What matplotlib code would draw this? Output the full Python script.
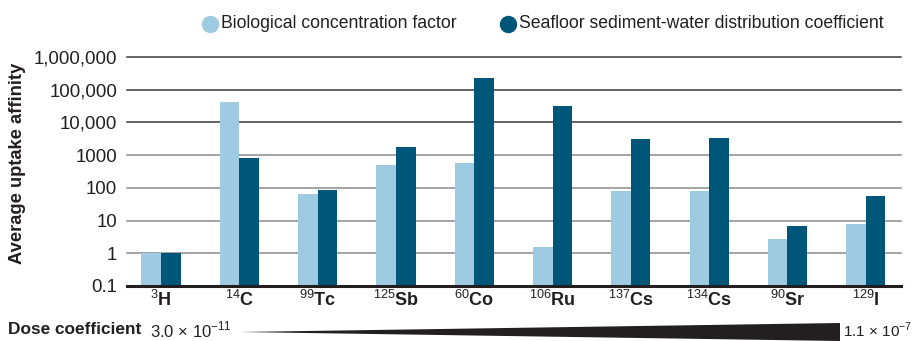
import matplotlib
matplotlib.use("Agg")
import matplotlib.pyplot as plt
import numpy as np
from matplotlib.lines import Line2D
from matplotlib.patches import Polygon

plt.rcParams['font.family'] = ['Liberation Sans', 'DejaVu Sans']
plt.rcParams['mathtext.fontset'] = 'custom'
plt.rcParams['mathtext.rm'] = 'Liberation Sans'
plt.rcParams['mathtext.bf'] = 'Liberation Sans:bold'

# ---- data ----
mass_numbers = ['3', '14', '99', '125', '60', '106', '137', '134', '90', '129']
elements = ['H', 'C', 'Tc', 'Sb', 'Co', 'Ru', 'Cs', 'Cs', 'Sr', 'I']
bio_conc = [1, 42000, 66, 500, 590, 1.6, 80, 82, 2.7, 8]
sediment_kd = [1, 830, 88, 1750, 230000, 31000, 3100, 3400, 7, 57]
yticks = [0.1, 1, 10, 100, 1000, 10000, 100000, 1000000]
ytick_labels = ['0.1', '1', '10', '100', '1000', '10,000', '100,000', '1,000,000']
series_names = ['Biological concentration factor', 'Seafloor sediment-water distribution coefficient']
dose_low = r'3.0 × 10$^{\mathrm{-11}}$'
dose_high = r'1.1 × 10$^{\mathrm{-7}}$'

LIGHT = '#9ecbe2'
DARK = '#005678'
INK = '#231f20'
W, H = 916, 341

fig = plt.figure(figsize=(W / 100, H / 100), dpi=100)
ax = fig.add_axes([127 / W, 1 - 286 / H, (901 - 127) / W, (286 - 57) / H])

x = np.arange(len(elements))
bw = 0.25
ax.bar(x - bw / 2, bio_conc, width=bw, color=LIGHT, zorder=3)
ax.bar(x + bw / 2, sediment_kd, width=bw, color=DARK, zorder=3)

ax.set_yscale('log')
ax.set_ylim(0.1, 1e6)
ax.set_xlim(-0.435, 9.45)

for v in yticks[1:]:
    col = '#3a3a3a' if v >= 10000 else '#8c8c8c'
    ax.axhline(v, color=col, lw=1.1, zorder=1, clip_on=False)

ax.set_yticks(yticks)
ax.set_yticklabels(ytick_labels)
ax.yaxis.set_minor_locator(matplotlib.ticker.NullLocator())
ax.tick_params(axis='y', length=0, pad=7, labelsize=13.4, labelcolor=INK)
for s in ['top', 'right', 'left']:
    ax.spines[s].set_visible(False)
ax.spines['bottom'].set_linewidth(2.2)
ax.spines['bottom'].set_color(INK)
ax.spines['bottom'].set_zorder(4)

ax.set_xticks(x)
ax.set_xticklabels([r'$^{\mathrm{%s}}\mathbf{%s}$' % (m, e) for m, e in zip(mass_numbers, elements)])
ax.tick_params(axis='x', length=0, pad=3, labelsize=13, labelcolor=INK)

fig.text(18 / W, 1 - 163 / H, 'Average uptake affinity', rotation=90, fontsize=13.2,
         fontweight='bold', ha='center', va='center', color=INK)

# legend
for cx, tx, col, name in [(210, 221, LIGHT, series_names[0]), (508, 519, DARK, series_names[1])]:
    fig.add_artist(Line2D([cx / W], [1 - 24 / H], marker='o', markersize=11.5, color=col,
                          transform=fig.transFigure, linestyle='none'))
    fig.text(tx / W, 1 - 24 / H, name, fontsize=12.7, ha='left', va='center', color=INK)

# dose coefficient
fig.text(8 / W, 1 - 330 / H, 'Dose coefficient', fontsize=12.4, fontweight='bold',
         ha='left', va='center', color=INK)
fig.text(150 / W, 1 - 330 / H, dose_low, fontsize=12, ha='left', va='center', color=INK)
fig.text(843 / W, 1 - 330 / H, dose_high, fontsize=11, ha='left', va='center', color=INK)
wedge = Polygon([[240 / W, 1 - 332 / H], [840 / W, 1 - 323 / H], [840 / W, 1 - 341 / H]],
                closed=True, transform=fig.transFigure, facecolor=INK, edgecolor='none')
fig.add_artist(wedge)

fig.savefig('out.png', dpi=100)
